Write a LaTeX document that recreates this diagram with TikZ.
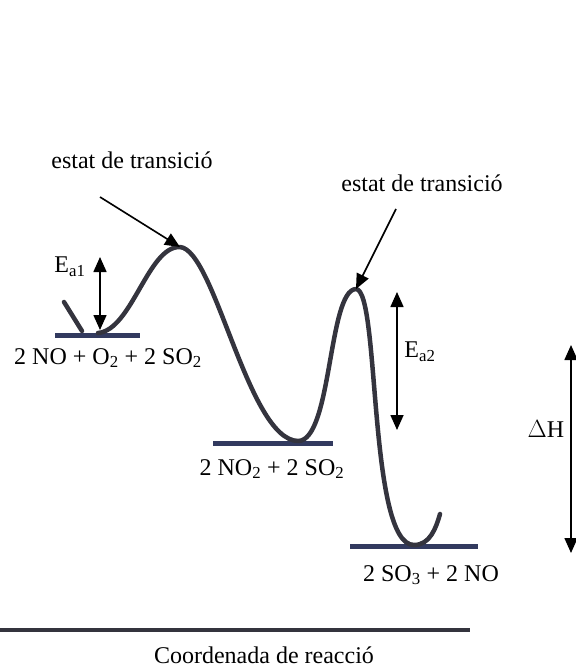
\documentclass[tikz,border=0pt]{standalone}
\usepackage{fontspec}
\setmainfont{Liberation Serif}
\usetikzlibrary{arrows.meta}
\definecolor{pen}{RGB}{52,52,62}
\definecolor{levelpen}{RGB}{50,58,95}
\begin{document}
\begin{tikzpicture}[x=1pt, y=-1pt, thick, >={Triangle[width=13pt,length=15pt]},
    every node/.style={font=\fontsize{24}{29}\selectfont, inner sep=0pt},
    level/.style={levelpen, line width=5pt},
    path/.style={pen, line width=4.5pt, line cap=round, line join=round},
    tip/.style={->, line width=1.6pt}]
        \useasboundingbox (0,0) rectangle (575,671);
        % Nodes
        \node (TS1) at (132,160) {estat de transició};
        \node (TS2) at (422,183) {estat de transició};
        \node (Ea1) at (70,267) {E\textsubscript{a1}};
        \node (Ea2) at (420,352) {E\textsubscript{a2}};
        \node (DH) at (546,429) {$\Delta$H};
        \node (R) at (108,358) {2 NO + O\textsubscript{2} + 2 SO\textsubscript{2}};
        \node (I) at (272,469) {2 NO\textsubscript{2} + 2 SO\textsubscript{2}};
        \node (P) at (431,575) {2 SO\textsubscript{3} + 2 NO};
        \node (X) at (264,655) {Coordenada de reacció};

        \coordinate (r1) at (55,335);  \coordinate (r2) at (140,335);
        \coordinate (i1) at (213,443); \coordinate (i2) at (333,443);
        \coordinate (p1) at (350,546); \coordinate (p2) at (478,546);
        \coordinate (peak1) at (180,247);
        \coordinate (peak2) at (356,289);
        \coordinate (a1s) at (100,197); \coordinate (a2s) at (396,209);
        \coordinate (x1) at (0,630); \coordinate (x2) at (470,630);

        % Levels and axis
        \draw[level] (r1) -- (r2);
        \draw[level] (i1) -- (i2);
        \draw[level] (p1) -- (p2);
        \draw[pen, line width=3.5pt] (x1) -- (x2);

        % Energy profile
        \draw[path] (64,302) -- (82,331);
        \draw[path] (98,333) .. controls (132,330) and (148,246) .. (peak1)
            .. controls (215,250) and (248,440) .. (298,441)
            .. controls (332,441) and (328,290) .. (peak2)
            .. controls (380,290) and (368,545) .. (414,545)
            .. controls (430,545) and (436,528) .. (440,514);

        % Arrows
        \draw[tip] (a1s) -- (peak1);
        \draw[tip] (a2s) -- (peak2);
        \draw[tip, <->] (100,257) -- (100,330);
        \draw[tip, <->] (397,292) -- (397,430);
        \draw[tip, <->] (571,345) -- (571,553);
\end{tikzpicture}
\end{document}
